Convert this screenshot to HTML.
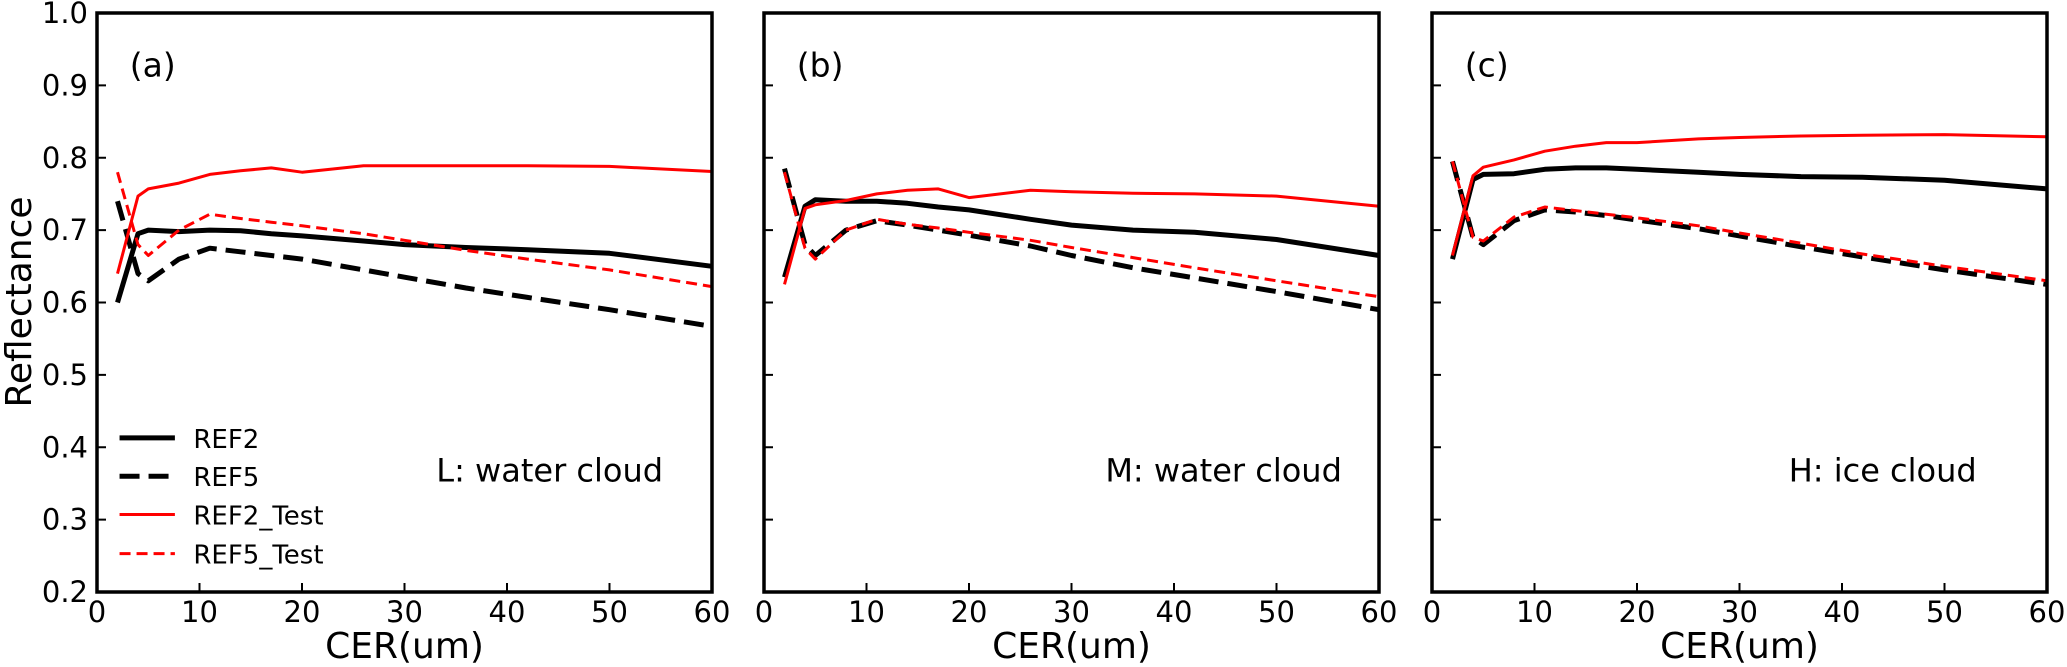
<!DOCTYPE html>
<html><head><meta charset="utf-8"><style>
body{margin:0;background:#fff;}
svg{display:block;font-family:"DejaVu Sans","Liberation Sans",sans-serif;}
</style></head><body>
<svg id="chart" width="2067" height="667" viewBox="0 0 2067 667" xmlns="http://www.w3.org/2000/svg"></svg>
<script>
const cer = [2,4,5,8,11,14,17,20,26,30,36,42,50,60];
const panelNames = ["(a)","(b)","(c)"];
const panelTitles = ["L: water cloud","M: water cloud","H: ice cloud"];
const seriesNames = ["REF2","REF5","REF2_Test","REF5_Test"];
const xTicks = [0,10,20,30,40,50,60];
const yTicks = [0.2,0.3,0.4,0.5,0.6,0.7,0.8,0.9,1.0];
const yTickLabels = ["0.2","0.3","0.4","0.5","0.6","0.7","0.8","0.9","1.0"];
const aREF2 = [0.60,0.695,0.70,0.698,0.70,0.699,0.695,0.692,0.685,0.68,0.676,0.673,0.668,0.65];
const aREF5 = [0.74,0.64,0.63,0.66,0.675,0.67,0.665,0.66,0.645,0.635,0.62,0.607,0.59,0.567];
const aREF2T = [0.64,0.747,0.757,0.765,0.777,0.782,0.786,0.78,0.789,0.789,0.789,0.789,0.788,0.781];
const aREF5T = [0.78,0.68,0.665,0.70,0.722,0.716,0.711,0.706,0.695,0.686,0.672,0.66,0.645,0.622];
const bREF2 = [0.635,0.733,0.742,0.74,0.74,0.737,0.732,0.728,0.715,0.707,0.70,0.697,0.687,0.665];
const bREF5 = [0.785,0.68,0.665,0.70,0.713,0.707,0.70,0.693,0.678,0.665,0.648,0.634,0.615,0.59];
const bREF2T = [0.625,0.73,0.735,0.741,0.75,0.755,0.757,0.745,0.755,0.753,0.751,0.75,0.747,0.733];
const bREF5T = [0.78,0.675,0.66,0.70,0.715,0.708,0.703,0.697,0.686,0.676,0.662,0.648,0.63,0.608];
const cREF2 = [0.66,0.77,0.777,0.778,0.784,0.786,0.786,0.784,0.78,0.777,0.774,0.773,0.769,0.757];
const cREF5 = [0.795,0.69,0.68,0.713,0.728,0.725,0.72,0.714,0.702,0.692,0.677,0.663,0.645,0.625];
const cREF2T = [0.665,0.775,0.787,0.797,0.809,0.816,0.821,0.821,0.826,0.828,0.83,0.831,0.832,0.829];
const cREF5T = [0.795,0.69,0.685,0.718,0.732,0.727,0.722,0.717,0.706,0.696,0.682,0.667,0.65,0.63];

const panelData = [[aREF2,aREF5,aREF2T,aREF5T],[bREF2,bREF5,bREF2T,bREF5T],[cREF2,cREF5,cREF2T,cREF5T]];
const styles = [
 {c:"#000",w:5,d:""},{c:"#000",w:5,d:"20 9"},{c:"#f00",w:3,d:""},{c:"#f00",w:3,d:"11 6"}];
const NS="http://www.w3.org/2000/svg";
const svg=document.getElementById("chart");
function mk(tag,attrs,parent){const e=document.createElementNS(NS,tag);for(const k in attrs)e.setAttribute(k,attrs[k]);(parent||svg).appendChild(e);return e;}
const lefts=[97,764,1432], PW=615, TOP=13, BOTTOM=592;
panelData.forEach((data,p)=>{
  const L=lefts[p];
  const g=mk("g",{});
  
  
  const X=v=>L+v/60*PW, Y=v=>BOTTOM-(v-0.2)/0.8*(BOTTOM-TOP);
  data.forEach((vals,s)=>{
    const st=styles[s];
    const pts=vals.map((v,i)=>X(cer[i]).toFixed(1)+","+Y(v).toFixed(1)).join(" ");
    const pl=mk("polyline",{points:pts,fill:"none",stroke:st.c,"stroke-width":st.w,"stroke-dasharray":st.d,"stroke-linejoin":"round"},g);
    
    
  });
  const fr=mk("rect",{x:L,y:TOP,width:PW,height:BOTTOM-TOP,fill:"none",stroke:"#000","stroke-width":3.5},g);
  
  
  xTicks.forEach(t=>{
    mk("line",{x1:X(t),x2:X(t),y1:BOTTOM,y2:BOTTOM-9,stroke:"#000","stroke-width":2},g);
    const tx=mk("text",{x:X(t),y:622,"font-size":29,"text-anchor":"middle"},g);
    tx.textContent=t;
    
    
  });
  yTicks.forEach((t,i)=>{
    mk("line",{x1:L,x2:L+9,y1:Y(t),y2:Y(t),stroke:"#000","stroke-width":2},g);
    if(p===0){
      const ty=mk("text",{x:88,y:Y(t)+10,"font-size":29,"text-anchor":"end"},g);
      ty.textContent=yTickLabels[i];
      
      
    }
  });
  const xl=mk("text",{x:L+PW/2,y:658,"font-size":36,"text-anchor":"middle"},g);
  xl.textContent="CER(um)";
  
  
  const pn=mk("text",{x:X(3.2),y:Y(0.912),"font-size":33},g);
  pn.textContent=panelNames[p];
  
  
  const pt=mk("text",{x:X([33.1,33.3,34.8][p]),y:Y(0.353),"font-size":32},g);
  pt.textContent=panelTitles[p];
  
  
  if(p===0){
    const legY=[0.413,0.36,0.307,0.253];
    seriesNames.forEach((n,s)=>{
      const st=styles[s];
      const le=mk("g",{},g);
      
      
      mk("line",{x1:X(2.2),x2:X(7.6),y1:Y(legY[s]),y2:Y(legY[s]),stroke:st.c,"stroke-width":st.w,"stroke-dasharray":st.d},le);
      const lt=mk("text",{x:X(9.4),y:Y(legY[s])+10,"font-size":26},le);
      lt.textContent=n;
    });
  }
});
const yl=mk("text",{x:0,y:0,"font-size":36,"text-anchor":"middle",transform:"translate(31,302) rotate(-90)"});
yl.textContent="Reflectance";


</script>
</body></html>
